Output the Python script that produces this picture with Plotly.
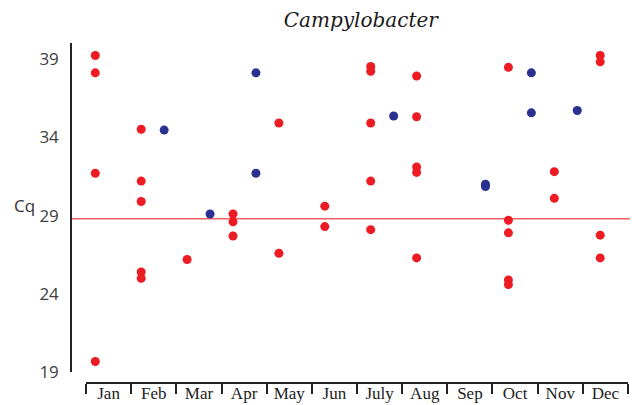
import plotly.graph_objects as go

MONTHS = ["Jan", "Feb", "Mar", "Apr", "May", "Jun",
          "July", "Aug", "Sep", "Oct", "Nov", "Dec"]

# red samples: month label and Cq value
red_month = ["Jan", "Jan", "Jan", "Jan",
             "Feb", "Feb", "Feb", "Feb", "Feb",
             "Mar",
             "Apr", "Apr", "Apr",
             "May", "May",
             "Jun", "Jun",
             "July", "July", "July", "July", "July",
             "Aug", "Aug", "Aug", "Aug", "Aug",
             "Oct", "Oct", "Oct", "Oct", "Oct",
             "Nov", "Nov",
             "Dec", "Dec", "Dec", "Dec"]
red_cq = [39.2, 38.1, 31.7, 19.7,
          34.5, 31.2, 29.9, 25.4, 25.0,
          26.2,
          29.1, 28.6, 27.7,
          34.9, 26.6,
          29.6, 28.3,
          38.5, 38.2, 34.9, 31.2, 28.1,
          37.9, 35.3, 32.1, 31.75, 26.3,
          38.45, 28.7, 27.9, 24.9, 24.6,
          31.8, 30.1,
          39.2, 38.8, 27.75, 26.3]

# blue samples
blue_month = ["Feb", "Mar", "Apr", "Apr", "July", "Sep", "Sep", "Oct", "Oct", "Nov"]
blue_cq = [34.45, 29.1, 38.1, 31.7, 35.35, 31.0, 30.85, 38.1, 35.55, 35.7]

CUTOFF = 28.8

RED = "#ED1C24"
BLUE = "#2B3190"
INK = "#222222"

# dot axis: one unit per month, blue sits half a unit right of red
red_x = [MONTHS.index(m) for m in red_month]
blue_x = [MONTHS.index(m) + 0.5 for m in blue_month]

fig = go.Figure()
fig.add_trace(go.Scatter(
    x=red_x, y=red_cq, mode="markers",
    marker=dict(color=RED, size=9, line=dict(width=0)),
    showlegend=False, xaxis="x", yaxis="y",
))
fig.add_trace(go.Scatter(
    x=blue_x, y=blue_cq, mode="markers",
    marker=dict(color=BLUE, size=9, line=dict(width=0)),
    showlegend=False, xaxis="x", yaxis="y",
))
# empty trace so the month axis gets drawn
fig.add_trace(go.Scatter(
    x=list(range(len(MONTHS))), y=[None] * len(MONTHS), mode="markers",
    showlegend=False, hoverinfo="skip", xaxis="x2", yaxis="y",
))

fig.add_hline(y=CUTOFF, line=dict(color="#F26065", width=1.5), layer="below")

fig.update_layout(
    width=632, height=405,
    paper_bgcolor="white", plot_bgcolor="rgba(0,0,0,0)",
    margin=dict(l=72, r=2, t=43, b=22, autoexpand=False),
    title=dict(text="Campylobacter", x=0.571, xref="container",
               xanchor="center", y=0.951, yanchor="middle",
               font=dict(family="DejaVu Serif", size=20, color="#1a1a1a",
                         style="italic")),
    xaxis=dict(domain=[0, 1], range=[-0.5076, 11.649], visible=False,
               automargin=False),
    xaxis2=dict(domain=[0.0251, 0.9964], range=[-0.5, 11.5],
                anchor="free", position=0, automargin=False,
                tickmode="array", tickvals=list(range(len(MONTHS))),
                ticktext=MONTHS, ticks="", showgrid=False, zeroline=False,
                showline=True, linecolor=INK, linewidth=1.5,
                ticklabelstandoff=-5,
                tickfont=dict(family="Liberation Serif", size=17, color=INK),
                minor=dict(tickmode="array",
                           tickvals=[i - 0.5 for i in range(len(MONTHS) + 1)],
                           ticks="outside", ticklen=10, tickwidth=2,
                           tickcolor=INK, showgrid=False)),
    yaxis=dict(domain=[0.031, 1], range=[19, 40], anchor="x", automargin=False,
               tickmode="array", tickvals=[19, 24, 29, 34, 39], ticks="",
               showgrid=False, zeroline=False, showline=True,
               linecolor=INK, linewidth=1.5, ticklabelstandoff=8,
               tickfont=dict(family="Open Sans", size=17, color="#404040")),
    annotations=[dict(text="Cq", xref="paper", yref="paper",
                      x=-0.086, y=0.5235, xanchor="center", yanchor="middle",
                      showarrow=False,
                      font=dict(family="Open Sans", size=17, color="#333333"))],
)

# drop the browser's default body margin so the figure sits at the corner
fig.write_html("out.html", config={"displayModeBar": False},
               post_script="document.body.style.margin='0';")
